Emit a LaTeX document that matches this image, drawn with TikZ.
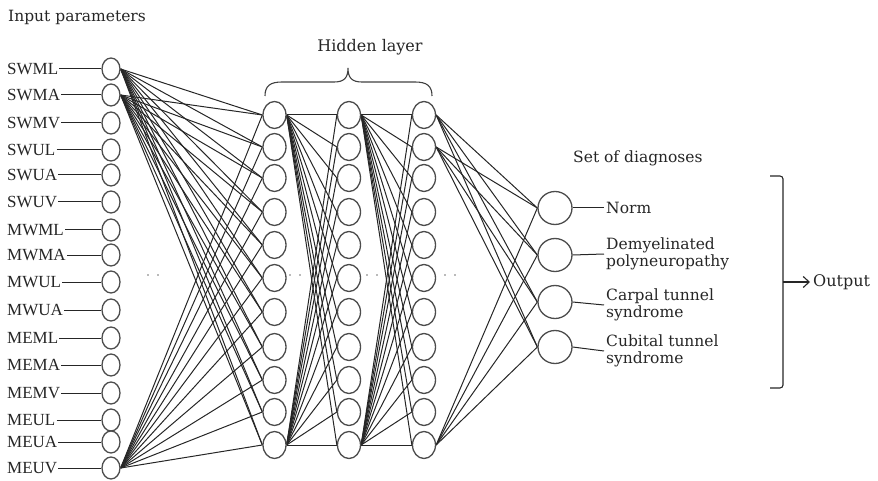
\documentclass[tikz,border=0pt]{standalone}
\usepackage{fontspec}
\setmainfont{DejaVu Serif}
\newfontfamily\timesf{Liberation Serif}
\usetikzlibrary{shapes.geometric,arrows.meta}
\pgfdeclarelayer{bg}
\pgfsetlayers{bg,main}
\begin{document}
\begin{tikzpicture}[x=1pt,y=-1pt,
  neuron/.style={ellipse, draw=black!70, line width=1.3pt, fill=white, inner sep=0pt},
  inp/.style={neuron, minimum width=18pt, minimum height=22pt},
  hid/.style={neuron, minimum width=23pt, minimum height=27pt},
  outn/.style={neuron, minimum width=34pt, minimum height=33pt},
  link/.style={draw=black!85, line width=1pt},
  lab/.style={font=\timesf\fontsize{17}{17}\selectfont, text=black!85, inner sep=1pt, anchor=west},
  dlab/.style={font=\fontsize{15.5}{17}\selectfont, text=black!85, inner sep=2pt, anchor=west, align=left},
  title/.style={font=\fontsize{15.5}{16}\selectfont, text=black!85, inner sep=0pt},
  dotmark/.style={fill=black!55}
]
\useasboundingbox (0,0) rectangle (878,481);

% titles
\node[title, anchor=west] (tin) at (8,17) {Input parameters};
\node[title, font=\fontsize{16}{16}\selectfont] (thid) at (370,47) {Hidden layer};
\node[title, anchor=west] (tset) at (573,158) {Set of diagnoses};

% input layer
\foreach \n/\y [count=\i from 0] in {SWML/69,SWMA/95,SWMV/123,SWUL/150,SWUA/175,SWUV/202,MWML/230,MWMA/255,MWUL/282,MWUA/310,MEML/338,MEMA/365,MEMV/393,MEUL/420,MEUA/442,MEUV/468}{
  \node[inp] (i\i) at (111,\y) {};
  \node[lab] (l\i) at (6,\y) {\n};
  \draw[link] (l\i.east) -- (i\i.west);
}

% hidden layers
\foreach \y [count=\j from 0] in {115,147,178,212,245,278,312,347,380,412,445}{
  \node[hid] (a\j) at (274.5,\y) {};
  \node[hid] (b\j) at (349,\y) {};
  \node[hid] (c\j) at (424,\y) {};
}

% output layer
\node[outn] (o0) at (555,208) {};
\node[outn] (o1) at (555,255) {};
\node[outn] (o2) at (555,302) {};
\node[outn] (o3) at (555,347) {};

\node[dlab] (d0) at (604,208) {Norm};
\node[dlab] (d1) at (604,254) {Demyelinated\\polyneuropathy};
\node[dlab] (d2) at (604,305) {Carpal tunnel\\syndrome};
\node[dlab] (d3) at (604,351) {Cubital tunnel\\syndrome};
\foreach \k in {0,...,3}{\draw[link] (o\k.east) -- (d\k.west);}

% connections
\begin{pgfonlayer}{bg}
\foreach \j in {0,...,10}{
  \draw[link] (i0.east) -- (a\j.west);
  \draw[link] (i1.east) -- (a\j.west);
  \draw[link] (i15.east) -- (a\j.west);
  \draw[link] (a0.east) -- (b\j.west);
  \draw[link] (a10.east) -- (b\j.west);
  \draw[link] (b0.east) -- (c\j.west);
  \draw[link] (b10.east) -- (c\j.west);
}
\foreach \k in {0,...,3}{
  \draw[link] (c0.east) -- (o\k.west);
  \draw[link] (c1.east) -- (o\k.west);
  \draw[link] (c10.east) -- (o\k.west);
}
\end{pgfonlayer}

% brace over hidden layer
\draw[black!75, line width=1.1pt] (265,96) .. controls (265,86) and (270,82) .. (282,82) -- (334,82) .. controls (344,82) and (348,78) .. (348,68)
  .. controls (348,78) and (352,82) .. (362,82) -- (415,82) .. controls (427,82) and (432,86) .. (432,96);

% dots
\foreach \x in {148,158,290,300,367,377,445,455}{
  \fill[dotmark] (\x,275) circle (0.9pt);
}

% output bracket
\draw[black!85, line width=1.1pt, rounded corners=3pt] (770,176) -- (783,176) -- (783,388) -- (770,388);
\coordinate (bm) at (783,282);
\node[title, anchor=west, inner sep=3pt, font=\fontsize{16}{16}\selectfont] (tout) at (810,282) {Output};
\draw[black!85, line width=1.1pt, -{Straight Barb[length=6pt,width=11pt]}] (bm) -- (tout.west);
\end{tikzpicture}
\end{document}
